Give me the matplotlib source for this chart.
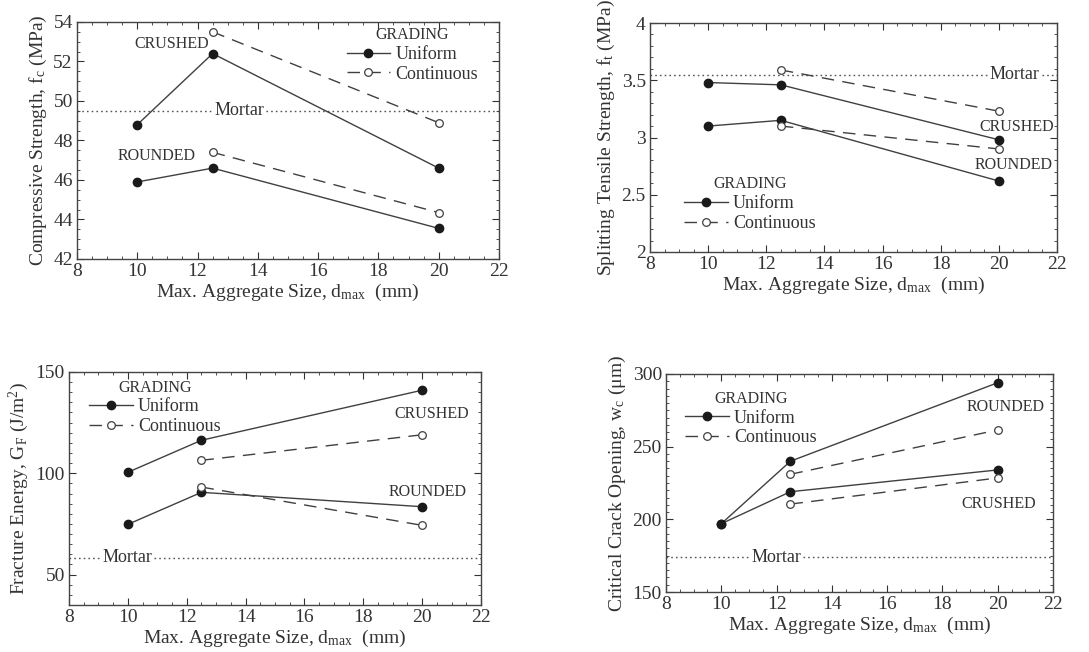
import matplotlib
matplotlib.use("Agg")
import matplotlib.pyplot as plt
from matplotlib.ticker import MultipleLocator, FormatStrFormatter

plt.rcParams['font.family'] = ['Liberation Serif', 'DejaVu Serif']
plt.rcParams['mathtext.fontset'] = 'custom'
plt.rcParams['mathtext.rm'] = 'Liberation Serif'
plt.rcParams['mathtext.it'] = 'Liberation Serif:italic'

# ---------------- data ----------------
d_uni = [10, 12.5, 20]
d_cont = [12.5, 20]

# Compressive strength (MPa)
fc_crushed_uni = [48.8, 52.4, 46.6]
fc_crushed_cont = [53.5, 48.9]
fc_rounded_uni = [45.9, 46.6, 43.55]
fc_rounded_cont = [47.4, 44.35]
fc_mortar = 49.5

# Splitting tensile strength (MPa)
ft_crushed_uni = [3.48, 3.46, 2.98]
ft_crushed_cont = [3.59, 3.23]
ft_rounded_uni = [3.10, 3.15, 2.62]
ft_rounded_cont = [3.10, 2.90]
ft_mortar = 3.55

# Fracture energy (J/m2)
gf_crushed_uni = [100.5, 116.3, 141]
gf_crushed_cont = [106.4, 119]
gf_rounded_uni = [74.8, 90.6, 83.5]
gf_rounded_cont = [93.2, 74.3]
gf_mortar = 58.4

# Critical crack opening (um)
wc_rounded_uni = [197, 240, 294]
wc_rounded_cont = [231, 261.5]
wc_crushed_uni = [197, 219, 234]
wc_crushed_cont = [210.5, 228.5]
wc_mortar = 174

xlabel = r"Max. Aggregate Size, d$_\mathrm{max}$  (mm)"
ylabels = [r"Compressive Strength, f$_\mathrm{c}$ (MPa)",
           r"Splitting Tensile Strength, f$_\mathrm{t}$ (MPa)",
           r"Fracture Energy, G$_\mathrm{F}$ (J/m$^\mathrm{2}$)",
           r"Critical Crack Opening, w$_\mathrm{c}$ ($\mathrm{\mu}$m)"]

LC = '#404040'
MC = '#1a1a1a'
DASH = (0, (9, 6))
DOT = (0, (1.2, 2.2))

fig = plt.figure(figsize=(10.89, 6.52), dpi=100)
rects = [[0.0707, 0.6028, 0.3875, 0.3635],
         [0.5969, 0.6135, 0.3737, 0.3512],
         [0.0634, 0.0721, 0.3783, 0.3574],
         [0.6116, 0.0920, 0.3554, 0.3344]]
axes = [fig.add_axes(r) for r in rects]


def series(ax, uni1, cont1, uni2, cont2, mortar):
    ax.plot(d_uni, uni1, '-', color=LC, lw=1.0, marker='o', ms=6,
            mfc=MC, mec=MC, label='Uniform', zorder=3)
    ax.plot(d_cont, cont1, linestyle=DASH, color=LC, lw=1.0, marker='o', ms=5.5,
            mfc='white', mec=LC, mew=0.9, label='Continuous', zorder=3)
    ax.plot(d_uni, uni2, '-', color=LC, lw=1.0, marker='o', ms=6,
            mfc=MC, mec=MC, zorder=3)
    ax.plot(d_cont, cont2, linestyle=DASH, color=LC, lw=1.0, marker='o', ms=5.5,
            mfc='white', mec=LC, mew=0.9, zorder=3)
    ax.axhline(mortar, color='#555555', lw=1.0, linestyle=DOT, zorder=1)


def style(ax, ylim, ymaj, ymin, ylabel):
    ax.set_xlim(8, 22)
    ax.set_ylim(*ylim)
    ax.xaxis.set_major_locator(MultipleLocator(2))
    ax.xaxis.set_minor_locator(MultipleLocator(0.5))
    ax.yaxis.set_major_locator(MultipleLocator(ymaj))
    ax.yaxis.set_minor_locator(MultipleLocator(ymin))
    ax.yaxis.set_major_formatter(FormatStrFormatter('%g'))
    ax.tick_params(which='both', direction='in', top=True, right=True,
                   colors='#333333', labelcolor='#333333')
    ax.tick_params(which='major', length=5, labelsize=14, pad=3)
    ax.tick_params(which='minor', length=2.5)
    for s in ax.spines.values():
        s.set_color('#444444')
        s.set_linewidth(1.0)
    ax.set_xlabel(xlabel, fontsize=14, color='#333333', labelpad=1)
    ax.set_ylabel(ylabel, fontsize=14, color='#333333', labelpad=3)


def legend(ax, anchor, loc):
    lg = ax.legend(title='GRADING', loc=loc, bbox_to_anchor=anchor, frameon=False,
                   fontsize=13, title_fontsize=11.5, handlelength=2.4,
                   handletextpad=0.3, labelspacing=0.15, borderpad=0.1,
                   borderaxespad=0.0)
    for t in lg.get_texts():
        t.set_color('#333333')
    lg.get_title().set_color('#333333')


def label(ax, x, y, s, size=11.5, bg=False):
    kw = dict(ha='center', va='center', fontsize=size, color='#333333', zorder=4)
    if bg:
        kw['bbox'] = dict(facecolor='white', edgecolor='none', pad=0.5)
    ax.text(x, y, s, **kw)


# Panel 1: compressive strength
ax = axes[0]
series(ax, fc_crushed_uni, fc_crushed_cont, fc_rounded_uni, fc_rounded_cont, fc_mortar)
style(ax, (42, 54), 2, 0.5, ylabels[0])
legend(ax, (0.955, 0.985), 'upper right')
label(ax, 11.15, 52.9, 'CRUSHED')
label(ax, 10.65, 47.2, 'ROUNDED')
label(ax, 13.4, fc_mortar, 'Mortar', size=13, bg=True)

# Panel 2: splitting tensile strength
ax = axes[1]
series(ax, ft_crushed_uni, ft_crushed_cont, ft_rounded_uni, ft_rounded_cont, ft_mortar)
style(ax, (2, 4), 0.5, 0.1, ylabels[1])
legend(ax, (0.08, 0.08), 'lower left')
label(ax, 20.6, 3.09, 'CRUSHED')
label(ax, 20.5, 2.76, 'ROUNDED')
label(ax, 20.55, ft_mortar, 'Mortar', size=13, bg=True)

# Panel 3: fracture energy
ax = axes[2]
series(ax, gf_crushed_uni, gf_crushed_cont, gf_rounded_uni, gf_rounded_cont, gf_mortar)
style(ax, (35, 150), 50, 5, ylabels[2])
legend(ax, (0.045, 0.975), 'upper left')
label(ax, 20.33, 129.3, 'CRUSHED')
label(ax, 20.2, 90.8, 'ROUNDED')
label(ax, 10.0, gf_mortar, 'Mortar', size=13, bg=True)

# Panel 4: critical crack opening
ax = axes[3]
series(ax, wc_rounded_uni, wc_rounded_cont, wc_crushed_uni, wc_crushed_cont, wc_mortar)
style(ax, (150, 300), 50, 5, ylabels[3])
legend(ax, (0.045, 0.93), 'upper left')
label(ax, 20.3, 277.3, 'ROUNDED')
label(ax, 20.05, 210.5, 'CRUSHED')
label(ax, 12.0, wc_mortar, 'Mortar', size=13, bg=True)

fig.savefig('out.png', dpi=100, facecolor='white')
